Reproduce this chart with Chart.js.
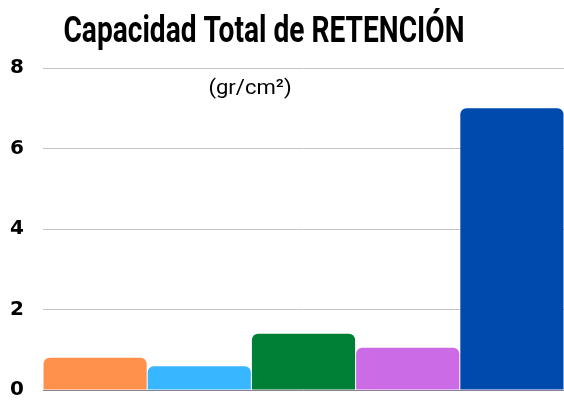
<!DOCTYPE html>
<html>
<head>
<meta charset="utf-8">
<script src="https://cdn.jsdelivr.net/npm/chart.js@4"></script>
<style>
    html, body { margin: 0; padding: 0; background: #fff; }
    .chart-wrapper { position: relative; width: 564px; height: 400px; }
</style>
</head>
<body>
<div class="chart-wrapper"><canvas id="chart"></canvas></div>
<script>
const categories = ['Muestra 1', 'Muestra 2', 'Muestra 3', 'Muestra 4', 'Muestra 5'];
const retention = [0.8, 0.59, 1.4, 1.05, 7.0];
const barColors = ['#FF914D', '#38B6FF', '#008037', '#CB6CE6', '#004AAD'];
const yTicks = [0, 2, 4, 6, 8];

const titleText = 'Capacidad Total de RETENCIÓN';
const unitText = '(gr/cm²)';

// the reference uses a condensed face; squeeze Roboto horizontally to get close
function drawCondensed(ctx, text, x, y, font, squeeze) {
    ctx.save();
    ctx.font = font;
    ctx.fillStyle = '#000';
    ctx.textAlign = 'center';
    ctx.textBaseline = 'alphabetic';
    ctx.translate(x, y);
    ctx.scale(squeeze, 1);
    ctx.fillText(text, 0, 0);
    ctx.restore();
}

const headings = {
    id: 'headings',
    afterDraw(chart) {
        const { ctx, chartArea } = chart;
        drawCondensed(ctx, titleText, 264, 42, 'bold 37px Roboto, sans-serif', 0.76);
        drawCondensed(ctx, unitText, 250, chartArea.top + 26, '21px Roboto, sans-serif', 1.05);
    }
};

new Chart(document.getElementById('chart'), {
    type: 'bar',
    data: {
        labels: categories,
        datasets: [{
            data: retention,
            backgroundColor: barColors,
            borderWidth: 0,
            borderRadius: { topLeft: 6, topRight: 6 },
            borderSkipped: 'bottom',
            barPercentage: 0.99,
            categoryPercentage: 1,
        }],
    },
    options: {
        responsive: true,
        maintainAspectRatio: false,
        animation: false,
        layout: { padding: { top: 68, right: 0, bottom: 10, left: 10 } },
        plugins: {
            legend: { display: false },
            tooltip: { enabled: false },
            title: { display: false },
        },
        scales: {
            x: { display: false },
            y: {
                min: 0,
                max: 8,
                afterBuildTicks(axis) {
                    axis.ticks = yTicks.map(v => ({ value: v }));
                },
                afterFit(axis) { axis.width = 33; },
                ticks: {
                    color: '#000',
                    padding: 0,
                    crossAlign: 'far',
                    font: { family: '"DejaVu Sans", sans-serif', size: 20, weight: 'bold', lineHeight: 1 },
                },
                grid: {
                    color: ctx => (ctx.tick && ctx.tick.value === 0 ? '#8c8494' : '#c4c4c4'),
                    drawTicks: false,
                },
                border: { display: false },
            },
        },
    },
    plugins: [headings],
});
</script>
</body>
</html>
